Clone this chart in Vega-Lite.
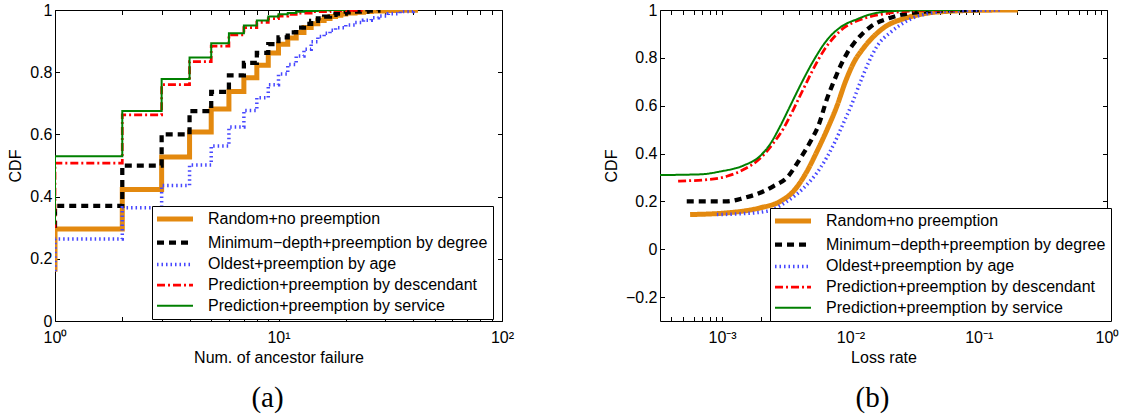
{
 "$schema": "https://vega.github.io/schema/vega-lite/v6.json",
 "padding": {"left": 7, "top": 1, "right": 4, "bottom": 0},
 "spacing": 87,
 "datasets": {
  "a": [
   {"m":"Random+no preemption","i":0,"x":1,"y":0.158},
   {"m":"Random+no preemption","i":1,"x":1,"y":0.296},
   {"m":"Random+no preemption","i":2,"x":2,"y":0.423},
   {"m":"Random+no preemption","i":3,"x":3,"y":0.527},
   {"m":"Random+no preemption","i":4,"x":4,"y":0.608},
   {"m":"Random+no preemption","i":5,"x":5,"y":0.682},
   {"m":"Random+no preemption","i":6,"x":6,"y":0.738},
   {"m":"Random+no preemption","i":7,"x":7,"y":0.782},
   {"m":"Random+no preemption","i":8,"x":8,"y":0.822},
   {"m":"Random+no preemption","i":9,"x":9,"y":0.862},
   {"m":"Random+no preemption","i":10,"x":10,"y":0.89},
   {"m":"Random+no preemption","i":11,"x":11,"y":0.91},
   {"m":"Random+no preemption","i":12,"x":12,"y":0.928},
   {"m":"Random+no preemption","i":13,"x":13,"y":0.944},
   {"m":"Random+no preemption","i":14,"x":14,"y":0.956},
   {"m":"Random+no preemption","i":15,"x":15,"y":0.966},
   {"m":"Random+no preemption","i":16,"x":16,"y":0.973},
   {"m":"Random+no preemption","i":17,"x":17,"y":0.979},
   {"m":"Random+no preemption","i":18,"x":18,"y":0.983},
   {"m":"Random+no preemption","i":19,"x":19,"y":0.987},
   {"m":"Random+no preemption","i":20,"x":20,"y":0.99},
   {"m":"Random+no preemption","i":21,"x":22,"y":0.993},
   {"m":"Random+no preemption","i":22,"x":24,"y":0.995},
   {"m":"Random+no preemption","i":23,"x":26,"y":0.997},
   {"m":"Random+no preemption","i":24,"x":30,"y":0.998},
   {"m":"Random+no preemption","i":25,"x":35,"y":0.999},
   {"m":"Random+no preemption","i":26,"x":41,"y":1.0},
   {"m":"Minimum−depth+preemption by degree","i":0,"x":1,"y":0.30},
   {"m":"Minimum−depth+preemption by degree","i":1,"x":1,"y":0.37},
   {"m":"Minimum−depth+preemption by degree","i":2,"x":2,"y":0.50},
   {"m":"Minimum−depth+preemption by degree","i":3,"x":3,"y":0.60},
   {"m":"Minimum−depth+preemption by degree","i":4,"x":4,"y":0.675},
   {"m":"Minimum−depth+preemption by degree","i":5,"x":5,"y":0.737},
   {"m":"Minimum−depth+preemption by degree","i":6,"x":6,"y":0.79},
   {"m":"Minimum−depth+preemption by degree","i":7,"x":7,"y":0.83},
   {"m":"Minimum−depth+preemption by degree","i":8,"x":8,"y":0.862},
   {"m":"Minimum−depth+preemption by degree","i":9,"x":9,"y":0.89},
   {"m":"Minimum−depth+preemption by degree","i":10,"x":10,"y":0.912},
   {"m":"Minimum−depth+preemption by degree","i":11,"x":11,"y":0.928},
   {"m":"Minimum−depth+preemption by degree","i":12,"x":12,"y":0.943},
   {"m":"Minimum−depth+preemption by degree","i":13,"x":13,"y":0.955},
   {"m":"Minimum−depth+preemption by degree","i":14,"x":14,"y":0.965},
   {"m":"Minimum−depth+preemption by degree","i":15,"x":15,"y":0.973},
   {"m":"Minimum−depth+preemption by degree","i":16,"x":16,"y":0.979},
   {"m":"Minimum−depth+preemption by degree","i":17,"x":17,"y":0.984},
   {"m":"Minimum−depth+preemption by degree","i":18,"x":18,"y":0.988},
   {"m":"Minimum−depth+preemption by degree","i":19,"x":20,"y":0.992},
   {"m":"Minimum−depth+preemption by degree","i":20,"x":22,"y":0.995},
   {"m":"Minimum−depth+preemption by degree","i":21,"x":25,"y":0.998},
   {"m":"Minimum−depth+preemption by degree","i":22,"x":28,"y":1.0},
   {"m":"Oldest+preemption by age","i":0,"x":1,"y":0.16},
   {"m":"Oldest+preemption by age","i":1,"x":1,"y":0.264},
   {"m":"Oldest+preemption by age","i":2,"x":2,"y":0.364},
   {"m":"Oldest+preemption by age","i":3,"x":3,"y":0.436},
   {"m":"Oldest+preemption by age","i":4,"x":4,"y":0.502},
   {"m":"Oldest+preemption by age","i":5,"x":5,"y":0.563},
   {"m":"Oldest+preemption by age","i":6,"x":6,"y":0.624},
   {"m":"Oldest+preemption by age","i":7,"x":7,"y":0.677},
   {"m":"Oldest+preemption by age","i":8,"x":8,"y":0.718},
   {"m":"Oldest+preemption by age","i":9,"x":9,"y":0.76},
   {"m":"Oldest+preemption by age","i":10,"x":10,"y":0.794},
   {"m":"Oldest+preemption by age","i":11,"x":11,"y":0.825},
   {"m":"Oldest+preemption by age","i":12,"x":12,"y":0.852},
   {"m":"Oldest+preemption by age","i":13,"x":13,"y":0.874},
   {"m":"Oldest+preemption by age","i":14,"x":14,"y":0.898},
   {"m":"Oldest+preemption by age","i":15,"x":15,"y":0.915},
   {"m":"Oldest+preemption by age","i":16,"x":16,"y":0.925},
   {"m":"Oldest+preemption by age","i":17,"x":17,"y":0.935},
   {"m":"Oldest+preemption by age","i":18,"x":18,"y":0.943},
   {"m":"Oldest+preemption by age","i":19,"x":20,"y":0.952},
   {"m":"Oldest+preemption by age","i":20,"x":22,"y":0.96},
   {"m":"Oldest+preemption by age","i":21,"x":24,"y":0.967},
   {"m":"Oldest+preemption by age","i":22,"x":26,"y":0.975},
   {"m":"Oldest+preemption by age","i":23,"x":28,"y":0.981},
   {"m":"Oldest+preemption by age","i":24,"x":31,"y":0.988},
   {"m":"Oldest+preemption by age","i":25,"x":35,"y":0.995},
   {"m":"Oldest+preemption by age","i":26,"x":40,"y":1.0},
   {"m":"Prediction+preemption by descendant","i":0,"x":1,"y":0.30},
   {"m":"Prediction+preemption by descendant","i":1,"x":1,"y":0.508},
   {"m":"Prediction+preemption by descendant","i":2,"x":2,"y":0.663},
   {"m":"Prediction+preemption by descendant","i":3,"x":3,"y":0.76},
   {"m":"Prediction+preemption by descendant","i":4,"x":4,"y":0.834},
   {"m":"Prediction+preemption by descendant","i":5,"x":5,"y":0.884},
   {"m":"Prediction+preemption by descendant","i":6,"x":6,"y":0.92},
   {"m":"Prediction+preemption by descendant","i":7,"x":7,"y":0.943},
   {"m":"Prediction+preemption by descendant","i":8,"x":8,"y":0.96},
   {"m":"Prediction+preemption by descendant","i":9,"x":9,"y":0.972},
   {"m":"Prediction+preemption by descendant","i":10,"x":10,"y":0.98},
   {"m":"Prediction+preemption by descendant","i":11,"x":11,"y":0.986},
   {"m":"Prediction+preemption by descendant","i":12,"x":12,"y":0.99},
   {"m":"Prediction+preemption by descendant","i":13,"x":14,"y":0.995},
   {"m":"Prediction+preemption by descendant","i":14,"x":17,"y":0.998},
   {"m":"Prediction+preemption by descendant","i":15,"x":20,"y":0.999},
   {"m":"Prediction+preemption by descendant","i":16,"x":24,"y":1.0},
   {"m":"Prediction+preemption by service","i":0,"x":1,"y":0.31},
   {"m":"Prediction+preemption by service","i":1,"x":1,"y":0.53},
   {"m":"Prediction+preemption by service","i":2,"x":2,"y":0.675},
   {"m":"Prediction+preemption by service","i":3,"x":3,"y":0.778},
   {"m":"Prediction+preemption by service","i":4,"x":4,"y":0.847},
   {"m":"Prediction+preemption by service","i":5,"x":5,"y":0.893},
   {"m":"Prediction+preemption by service","i":6,"x":6,"y":0.925},
   {"m":"Prediction+preemption by service","i":7,"x":7,"y":0.95},
   {"m":"Prediction+preemption by service","i":8,"x":8,"y":0.966},
   {"m":"Prediction+preemption by service","i":9,"x":9,"y":0.979},
   {"m":"Prediction+preemption by service","i":10,"x":10,"y":0.986},
   {"m":"Prediction+preemption by service","i":11,"x":11,"y":0.99},
   {"m":"Prediction+preemption by service","i":12,"x":12,"y":0.994},
   {"m":"Prediction+preemption by service","i":13,"x":13,"y":0.997},
   {"m":"Prediction+preemption by service","i":14,"x":15,"y":0.999},
   {"m":"Prediction+preemption by service","i":15,"x":17,"y":1.0},
   {"m":"Prediction+preemption by service","i":16,"x":20,"y":1.0}
  ],
  "b": [
   {"m":"Random+no preemption","x":0.000563,"y":0.145},
   {"m":"Random+no preemption","x":0.001089,"y":0.152},
   {"m":"Random+no preemption","x":0.00198,"y":0.173},
   {"m":"Random+no preemption","x":0.00284,"y":0.20},
   {"m":"Random+no preemption","x":0.00361,"y":0.243},
   {"m":"Random+no preemption","x":0.00459,"y":0.326},
   {"m":"Random+no preemption","x":0.0055,"y":0.41},
   {"m":"Random+no preemption","x":0.00658,"y":0.50},
   {"m":"Random+no preemption","x":0.00787,"y":0.60},
   {"m":"Random+no preemption","x":0.00914,"y":0.70},
   {"m":"Random+no preemption","x":0.01062,"y":0.78},
   {"m":"Random+no preemption","x":0.0127,"y":0.842},
   {"m":"Random+no preemption","x":0.0152,"y":0.89},
   {"m":"Random+no preemption","x":0.0182,"y":0.926},
   {"m":"Random+no preemption","x":0.0277,"y":0.968},
   {"m":"Random+no preemption","x":0.0398,"y":0.987},
   {"m":"Random+no preemption","x":0.0605,"y":0.995},
   {"m":"Random+no preemption","x":0.104,"y":0.999},
   {"m":"Random+no preemption","x":0.202,"y":1.0},
   {"m":"Minimum−depth+preemption by degree","x":0.00053,"y":0.20},
   {"m":"Minimum−depth+preemption by degree","x":0.001089,"y":0.20},
   {"m":"Minimum−depth+preemption by degree","x":0.001469,"y":0.214},
   {"m":"Minimum−depth+preemption by degree","x":0.00198,"y":0.236},
   {"m":"Minimum−depth+preemption by degree","x":0.00252,"y":0.264},
   {"m":"Minimum−depth+preemption by degree","x":0.00321,"y":0.30},
   {"m":"Minimum−depth+preemption by degree","x":0.00407,"y":0.38},
   {"m":"Minimum−depth+preemption by degree","x":0.00488,"y":0.45},
   {"m":"Minimum−depth+preemption by degree","x":0.00566,"y":0.52},
   {"m":"Minimum−depth+preemption by degree","x":0.00658,"y":0.63},
   {"m":"Minimum−depth+preemption by degree","x":0.00741,"y":0.70},
   {"m":"Minimum−depth+preemption by degree","x":0.00836,"y":0.766},
   {"m":"Minimum−depth+preemption by degree","x":0.00943,"y":0.82},
   {"m":"Minimum−depth+preemption by degree","x":0.01062,"y":0.86},
   {"m":"Minimum−depth+preemption by degree","x":0.01236,"y":0.90},
   {"m":"Minimum−depth+preemption by degree","x":0.01436,"y":0.93},
   {"m":"Minimum−depth+preemption by degree","x":0.0206,"y":0.968},
   {"m":"Minimum−depth+preemption by degree","x":0.0313,"y":0.989},
   {"m":"Minimum−depth+preemption by degree","x":0.0505,"y":0.997},
   {"m":"Minimum−depth+preemption by degree","x":0.104,"y":1.0},
   {"m":"Oldest+preemption by age","x":0.00091,"y":0.145},
   {"m":"Oldest+preemption by age","x":0.001384,"y":0.148},
   {"m":"Oldest+preemption by age","x":0.00224,"y":0.159},
   {"m":"Oldest+preemption by age","x":0.00321,"y":0.20},
   {"m":"Oldest+preemption by age","x":0.00432,"y":0.256},
   {"m":"Oldest+preemption by age","x":0.00583,"y":0.34},
   {"m":"Oldest+preemption by age","x":0.00741,"y":0.438},
   {"m":"Oldest+preemption by age","x":0.00887,"y":0.53},
   {"m":"Oldest+preemption by age","x":0.01032,"y":0.61},
   {"m":"Oldest+preemption by age","x":0.01198,"y":0.70},
   {"m":"Oldest+preemption by age","x":0.01384,"y":0.78},
   {"m":"Oldest+preemption by age","x":0.0162,"y":0.85},
   {"m":"Oldest+preemption by age","x":0.0206,"y":0.907},
   {"m":"Oldest+preemption by age","x":0.0294,"y":0.962},
   {"m":"Oldest+preemption by age","x":0.0398,"y":0.985},
   {"m":"Oldest+preemption by age","x":0.0605,"y":0.995},
   {"m":"Oldest+preemption by age","x":0.1486,"y":1.0},
   {"m":"Prediction+preemption by descendant","x":0.000454,"y":0.285},
   {"m":"Prediction+preemption by descendant","x":0.000807,"y":0.292},
   {"m":"Prediction+preemption by descendant","x":0.001089,"y":0.305},
   {"m":"Prediction+preemption by descendant","x":0.001469,"y":0.333},
   {"m":"Prediction+preemption by descendant","x":0.00198,"y":0.38},
   {"m":"Prediction+preemption by descendant","x":0.00252,"y":0.445},
   {"m":"Prediction+preemption by descendant","x":0.00301,"y":0.505},
   {"m":"Prediction+preemption by descendant","x":0.0036,"y":0.585},
   {"m":"Prediction+preemption by descendant","x":0.00432,"y":0.672},
   {"m":"Prediction+preemption by descendant","x":0.00518,"y":0.757},
   {"m":"Prediction+preemption by descendant","x":0.00619,"y":0.83},
   {"m":"Prediction+preemption by descendant","x":0.00741,"y":0.885},
   {"m":"Prediction+preemption by descendant","x":0.00887,"y":0.925},
   {"m":"Prediction+preemption by descendant","x":0.01094,"y":0.952},
   {"m":"Prediction+preemption by descendant","x":0.0135,"y":0.969},
   {"m":"Prediction+preemption by descendant","x":0.0206,"y":0.988},
   {"m":"Prediction+preemption by descendant","x":0.0352,"y":0.997},
   {"m":"Prediction+preemption by descendant","x":0.0724,"y":1.0},
   {"m":"Prediction+preemption by service","x":0.0003,"y":0.31},
   {"m":"Prediction+preemption by service","x":0.000674,"y":0.313},
   {"m":"Prediction+preemption by service","x":0.000966,"y":0.325},
   {"m":"Prediction+preemption by service","x":0.001469,"y":0.35},
   {"m":"Prediction+preemption by service","x":0.00198,"y":0.39},
   {"m":"Prediction+preemption by service","x":0.00237,"y":0.44},
   {"m":"Prediction+preemption by service","x":0.00284,"y":0.515},
   {"m":"Prediction+preemption by service","x":0.0034,"y":0.60},
   {"m":"Prediction+preemption by service","x":0.00407,"y":0.685},
   {"m":"Prediction+preemption by service","x":0.00518,"y":0.79},
   {"m":"Prediction+preemption by service","x":0.00658,"y":0.875},
   {"m":"Prediction+preemption by service","x":0.00836,"y":0.928},
   {"m":"Prediction+preemption by service","x":0.0113,"y":0.962},
   {"m":"Prediction+preemption by service","x":0.0139,"y":0.98},
   {"m":"Prediction+preemption by service","x":0.0206,"y":0.995},
   {"m":"Prediction+preemption by service","x":0.0352,"y":0.999},
   {"m":"Prediction+preemption by service","x":0.0724,"y":1.0}
  ]
 },
 "resolve": {
  "scale": {"color": "independent", "strokeDash": "independent", "strokeWidth": "independent"},
  "legend": {"color": "independent", "strokeDash": "independent", "strokeWidth": "independent"}
 },
 "hconcat": [
  {
   "width": 447,
   "height": 311,
   "title": {"text": "(a)", "orient": "bottom", "offset": 19, "dx": -11},
   "resolve": {"axis": {"x": "independent", "y": "independent"}},
   "layer": [
    {
     "data": {"name": "a"},
     "mark": {"type": "line", "interpolate": "step-after", "clip": true},
     "encoding": {
      "x": {"field": "x", "type": "quantitative", "scale": {"type": "log", "domain": [1, 100]},
            "axis": {"orient": "bottom", "title": "Num. of ancestor failure", "values": [1,2,3,4,5,6,7,8,9,10,20,30,40,50,60,70,80,90,100],
                     "labelExpr": "datum.value == 1 ? '10⁰' : datum.value == 10 ? '10¹' : datum.value == 100 ? '10²' : ''"}},
      "y": {"field": "y", "type": "quantitative", "scale": {"domain": [0, 1]},
            "axis": {"orient": "left", "title": "CDF", "values": [0,0.2,0.4,0.6,0.8,1], "format": "~g"}},
      "color": {"field": "m", "type": "nominal",
                "scale": {"domain": ["Random+no preemption","Minimum−depth+preemption by degree","Oldest+preemption by age","Prediction+preemption by descendant","Prediction+preemption by service"],
                          "range": ["#E3890F","#000000","#4747FF","#FF0000","#008000"]},
                "legend": {"title": null, "orient": "none", "legendX": 97, "legendY": 196}},
      "strokeDash": {"field": "m", "type": "nominal",
                "scale": {"domain": ["Random+no preemption","Minimum−depth+preemption by degree","Oldest+preemption by age","Prediction+preemption by descendant","Prediction+preemption by service"],
                          "range": [[1,0],[7,5],[1.5,3],[8,3,2,3],[1,0]]},
                "legend": {"title": null, "orient": "none", "legendX": 97, "legendY": 196}},
      "strokeWidth": {"field": "m", "type": "nominal",
                "scale": {"domain": ["Random+no preemption","Minimum−depth+preemption by degree","Oldest+preemption by age","Prediction+preemption by descendant","Prediction+preemption by service"],
                          "range": [5,2,1.5,2,2]},
                "legend": {"title": null, "orient": "none", "legendX": 97, "legendY": 196}},
      "order": {"field": "i", "type": "quantitative"}
     }
    },
    {
     "data": {"name": "a"},
     "mark": {"type": "point", "opacity": 0},
     "encoding": {
      "x": {"field": "x", "type": "quantitative", "scale": {"type": "log", "domain": [1, 100]},
            "axis": {"orient": "top", "title": null, "labels": false, "values": [1,2,3,4,5,6,7,8,9,10,20,30,40,50,60,70,80,90,100]}},
      "y": {"field": "y", "type": "quantitative", "scale": {"domain": [0, 1]},
            "axis": {"orient": "right", "title": null, "labels": false, "values": [0,0.2,0.4,0.6,0.8,1]}}
     }
    }
   ]
  },
  {
   "width": 447,
   "height": 311,
   "title": {"text": "(b)", "orient": "bottom", "offset": 19, "dx": -11},
   "resolve": {"axis": {"x": "independent", "y": "independent"}},
   "layer": [
    {
     "data": {"name": "b"},
     "mark": {"type": "line", "interpolate": "monotone", "clip": true},
     "encoding": {
      "x": {"field": "x", "type": "quantitative", "scale": {"type": "log", "domain": [0.000328, 1]},
            "axis": {"orient": "bottom", "title": "Loss rate", "values": [0.0004,0.0005,0.0006,0.0007,0.0008,0.0009,0.001,0.002,0.003,0.004,0.005,0.006,0.007,0.008,0.009,0.01,0.02,0.03,0.04,0.05,0.06,0.07,0.08,0.09,0.1,0.2,0.3,0.4,0.5,0.6,0.7,0.8,0.9,1],
                     "labelExpr": "datum.value == 0.001 ? '10⁻³' : datum.value == 0.01 ? '10⁻²' : datum.value == 0.1 ? '10⁻¹' : datum.value == 1 ? '10⁰' : ''"}},
      "y": {"field": "y", "type": "quantitative", "scale": {"domain": [-0.3, 1]},
            "axis": {"orient": "left", "title": "CDF", "values": [-0.2,0,0.2,0.4,0.6,0.8,1], "format": "~g"}},
      "color": {"field": "m", "type": "nominal",
                "scale": {"domain": ["Random+no preemption","Minimum−depth+preemption by degree","Oldest+preemption by age","Prediction+preemption by descendant","Prediction+preemption by service"],
                          "range": ["#E3890F","#000000","#4747FF","#FF0000","#008000"]},
                "legend": {"title": null, "orient": "none", "legendX": 110, "legendY": 198}},
      "strokeDash": {"field": "m", "type": "nominal",
                "scale": {"domain": ["Random+no preemption","Minimum−depth+preemption by degree","Oldest+preemption by age","Prediction+preemption by descendant","Prediction+preemption by service"],
                          "range": [[1,0],[7,5],[1.5,3],[8,3,2,3],[1,0]]},
                "legend": {"title": null, "orient": "none", "legendX": 110, "legendY": 198}},
      "strokeWidth": {"field": "m", "type": "nominal",
                "scale": {"domain": ["Random+no preemption","Minimum−depth+preemption by degree","Oldest+preemption by age","Prediction+preemption by descendant","Prediction+preemption by service"],
                          "range": [5,2,1.5,2,2]},
                "legend": {"title": null, "orient": "none", "legendX": 110, "legendY": 198}}
     }
    },
    {
     "data": {"name": "b"},
     "mark": {"type": "point", "opacity": 0},
     "encoding": {
      "x": {"field": "x", "type": "quantitative", "scale": {"type": "log", "domain": [0.000328, 1]},
            "axis": {"orient": "top", "title": null, "labels": false, "values": [0.0004,0.0005,0.0006,0.0007,0.0008,0.0009,0.001,0.002,0.003,0.004,0.005,0.006,0.007,0.008,0.009,0.01,0.02,0.03,0.04,0.05,0.06,0.07,0.08,0.09,0.1,0.2,0.3,0.4,0.5,0.6,0.7,0.8,0.9,1]}},
      "y": {"field": "y", "type": "quantitative", "scale": {"domain": [-0.3, 1]},
            "axis": {"orient": "right", "title": null, "labels": false, "values": [-0.2,0,0.2,0.4,0.6,0.8,1]}}
     }
    }
   ]
  }
 ],
 "config": {
  "view": {"stroke": "black", "strokeWidth": 1},
  "axis": {"grid": false, "domain": false, "tickColor": "black", "tickSize": -4.5, "tickWidth": 1,
           "labelFont": "Liberation Sans", "labelFontSize": 16, "labelColor": "black",
           "titleFont": "Liberation Sans", "titleFontSize": 16, "titleFontWeight": "normal", "titleColor": "black",
           "labelOverlap": false, "labelFlush": false},
  "axisX": {"labelPadding": 12.5, "titlePadding": 4},
  "axisY": {"labelPadding": 7.5, "titlePadding": 6},
  "legend": {"orient": "none", "padding": 5, "strokeColor": "black", "fillColor": "white", "rowPadding": 4.7,
             "labelFont": "Liberation Sans", "labelFontSize": 16, "labelColor": "black", "labelLimit": 600,
             "symbolType": "M-3.27,0H3.27", "symbolSize": 121, "symbolOffset": 10, "labelOffset": 25},
  "title": {"font": "Liberation Serif", "fontSize": 29, "fontWeight": "normal", "color": "black"}
 }
}
